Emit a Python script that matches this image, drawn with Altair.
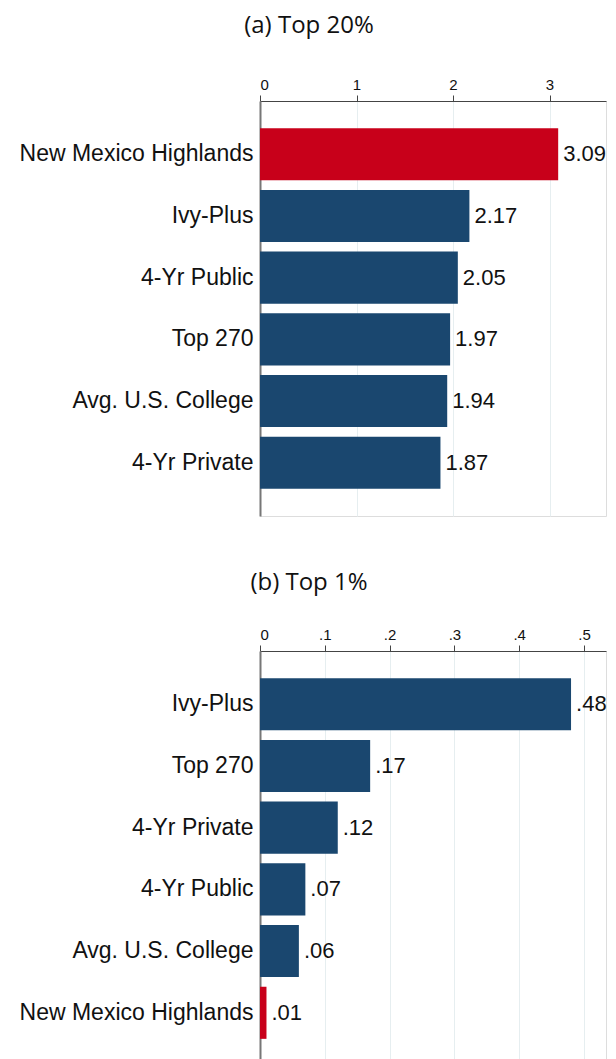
import altair as alt
import pandas as pd

# Panel (a): Top 20%
schools_a = ["New Mexico Highlands", "Ivy-Plus", "4-Yr Public", "Top 270", "Avg. U.S. College", "4-Yr Private"]
values_a = [3.09, 2.17, 2.05, 1.97, 1.94, 1.87]
ticks_a = [0, 1, 2, 3]

# Panel (b): Top 1%
schools_b = ["Ivy-Plus", "Top 270", "4-Yr Private", "4-Yr Public", "Avg. U.S. College", "New Mexico Highlands"]
values_b = [0.48, 0.17, 0.12, 0.07, 0.06, 0.01]
ticks_b = [0, 0.1, 0.2, 0.3, 0.4, 0.5]

HIGHLIGHT = "New Mexico Highlands"
NAVY = "#1a476f"
RED = "#c8001a"
W = 346
H = 415
PX_A = 96.5      # pixels per unit, panel a
PX_B = 648.0     # pixels per unit, panel b
FONT = "Liberation Sans"
PLOT_LEFT = 259


def fmt_a(v):
    return f"{v:.2f}"


def fmt_b(v):
    return f"{v:.2f}".lstrip("0")


def panel(schools, values, fmt, ticks, xmax, title, title_offset, label_expr):
    df = pd.DataFrame({"school": schools, "value": values,
                       "label": [fmt(v) for v in values]})
    x = alt.X("value:Q",
              scale=alt.Scale(domain=[0, xmax], nice=False, zero=True),
              axis=alt.Axis(orient="top", title=None, values=ticks,
                            labelExpr=label_expr, tickSize=6,
                            tickColor="#444444", domainColor="#444444",
                            domainWidth=1.2, labelPadding=3,
                            labelFont=FONT, labelFontSize=15,
                            labelColor="#111111", grid=True,
                            gridColor="#e6eef0", gridWidth=1))
    y = alt.Y("school:N", sort=schools,
              scale=alt.Scale(paddingInner=0.156, paddingOuter=0.44),
              axis=alt.Axis(title=None, ticks=False, domainColor="#777777",
                            domainWidth=2, labelPadding=7, labelLimit=0,
                            labelFont=FONT, labelFontSize=23,
                            labelColor="#111111", grid=False))
    base = alt.Chart(df)
    bars = base.mark_bar().encode(
        x=x, y=y,
        color=alt.condition(alt.datum.school == HIGHLIGHT,
                            alt.value(RED), alt.value(NAVY)))
    text = base.mark_text(align="left", baseline="middle", dx=5,
                          font=FONT, fontSize=22,
                          color="#111111").encode(
        x="value:Q", y=alt.Y("school:N", sort=schools), text="label:N")
    return alt.layer(bars, text).properties(
        width=W, height=H,
        title=alt.TitleParams(title, anchor="middle",
                              dx=308 - (PLOT_LEFT + W / 2),
                              font="Open Sans", fontSize=24, fontWeight="normal",
                              color="#111111", offset=title_offset))


label_a = "format(datum.value, 'd')"
label_b = "datum.value == 0 ? '0' : replace(format(datum.value, '.1f'), '0.', '.')"

chart_a = panel(schools_a, values_a, fmt_a, ticks_a, W / PX_A,
                "(a) Top 20%", 39, label_a)
chart_b = panel(schools_b, values_b, fmt_b, ticks_b, W / PX_B,
                "(b) Top 1%", 32, label_b)

chart = alt.vconcat(chart_a, chart_b, spacing=53).configure_view(
    stroke=None).configure(
    background="white", font=FONT,
    padding={"left": 10, "top": 5, "right": 0, "bottom": 5})

chart.save("out.html", embed_options={"renderer": "svg", "actions": False})
